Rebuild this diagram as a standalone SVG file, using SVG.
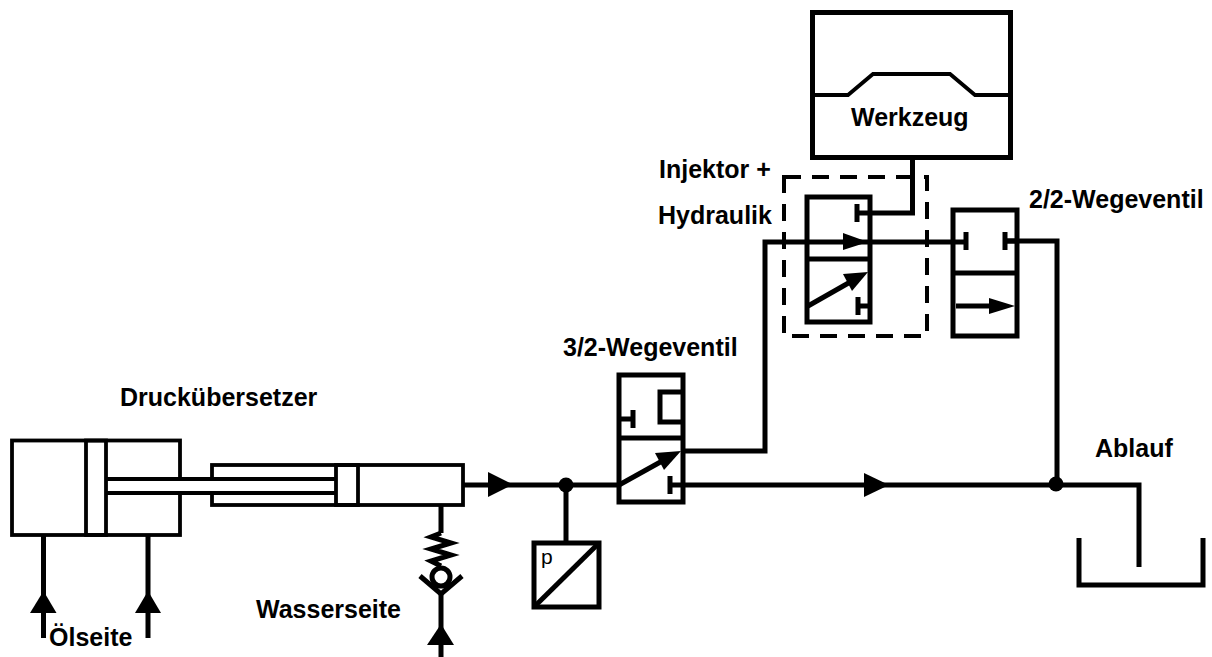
<svg xmlns="http://www.w3.org/2000/svg" width="1212" height="657" viewBox="0 0 1212 657">
<style>
.l{fill:none;stroke:#000;stroke-width:5;stroke-linejoin:miter}
.t{fill:none;stroke:#000;stroke-width:3.800}
.b{fill:#000;stroke:none}
text{font-family:"Liberation Sans",Arial,sans-serif;font-weight:bold;font-size:25px;fill:#000}
</style>
<rect width="1212" height="657" fill="#fff"/>
<g id="connectors">
<path class="l" d="M463 485H620M683 485H1056M566 485V543"/>
<path class="l" d="M683 451H765V242H966"/>
<path class="l" d="M870 213H912.500V157"/>
<path class="l" d="M1005 241H1057V485M1056 485H1139V567"/>
<path class="l" d="M43.500 535V638M148 535V638"/>
<path class="l" d="M441 505V533M441 594V657"/>
<polygon class="b" points="488,472 513,484.500 488,497"/>
<polygon class="b" points="864,473 889,485 864,497"/>
<polygon class="b" points="43.500,591 56.500,613 30,613"/>
<polygon class="b" points="148,591 161,613 135,613"/>
<polygon class="b" points="441,624 454,645 427,645"/>
<circle class="b" cx="566" cy="485" r="7.500"/>
<circle class="b" cx="1056" cy="484" r="7.500"/>
</g>
<g id="druckuebersetzer">
<rect class="t" x="12" y="440.500" width="168" height="94.500"/>
<rect x="86" y="440.500" width="20" height="94.500" class="t"/>
<rect x="212" y="465" width="251" height="40" class="t"/>
<rect x="108" y="481" width="226" height="10" fill="#fff"/>
<path class="t" d="M106 479H336M106 493H336"/>
<rect x="336" y="465" width="22" height="40" class="t"/>
<text x="120" y="406">Druckübersetzer</text>
</g>
<g id="rueckschlagventil">
<path class="l" d="M441 533L431 537L451 543L431 549L451 555L431 561L441 566" stroke-width="4"/>
<circle cx="441" cy="577" r="9" fill="#fff" stroke="#000" stroke-width="5"/>
<path class="l" d="M420 576L441 594L462 576"/>
</g>
<g id="drucksensor">
<rect class="l" x="534" y="543" width="65" height="64"/>
<path class="l" d="M534 607L599 543"/>
<text x="541" y="564" style="font-weight:normal;font-size:21px">p</text>
</g>
<g id="ventil-3-2">
<rect class="l" x="619" y="375" width="64" height="127"/>
<path class="l" d="M617 438H685"/>
<path class="l" d="M619 419H633M633 410V428M683 392H660V422H683M683 485H670M670 476V494"/>
<path class="l" d="M619 485L664 460"/>
<polygon class="b" points="681,451 664,470 655,453"/>
<text x="563" y="356">3/2-Wegeventil</text>
</g>
<g id="injektor">
<rect class="l" x="807" y="197" width="63" height="125"/>
<path class="l" d="M805 259H872"/>
<path class="l" d="M857 213H870M857 204V222M858 306H870M858 297V315"/>
<polygon class="b" points="868,242 843,233 843,250"/>
<path class="l" d="M808 306L852 281"/>
<polygon class="b" points="868,272 852,291 843,274"/>
<rect x="784" y="177" width="143" height="159" fill="none" stroke="#000" stroke-width="4" stroke-dasharray="17,11"/>
<text x="659" y="178">Injektor +</text>
<text x="658" y="224">Hydraulik</text>
</g>
<g id="ventil-2-2">
<rect class="l" x="953" y="210" width="64" height="126"/>
<path class="l" d="M951 273H1019"/>
<path class="l" d="M966 232V250M1005 232V250M1005 241H1017"/>
<path class="l" d="M956 306H992"/>
<polygon class="b" points="1015,306 989,298 989,314"/>
<text x="1029" y="208">2/2-Wegeventil</text>
</g>
<g id="werkzeug">
<rect class="l" x="812.500" y="12.500" width="198" height="145"/>
<path class="t" d="M812 95H848L873 74H950L975 95H1011"/>
<text x="851" y="126">Werkzeug</text>
</g>
<g id="ablauf">
<path class="l" d="M1079 538V585H1203V538"/>
<text x="1095" y="457">Ablauf</text>
</g>
<text x="49" y="646">Ölseite</text>
<text x="256" y="618">Wasserseite</text>
</svg>
